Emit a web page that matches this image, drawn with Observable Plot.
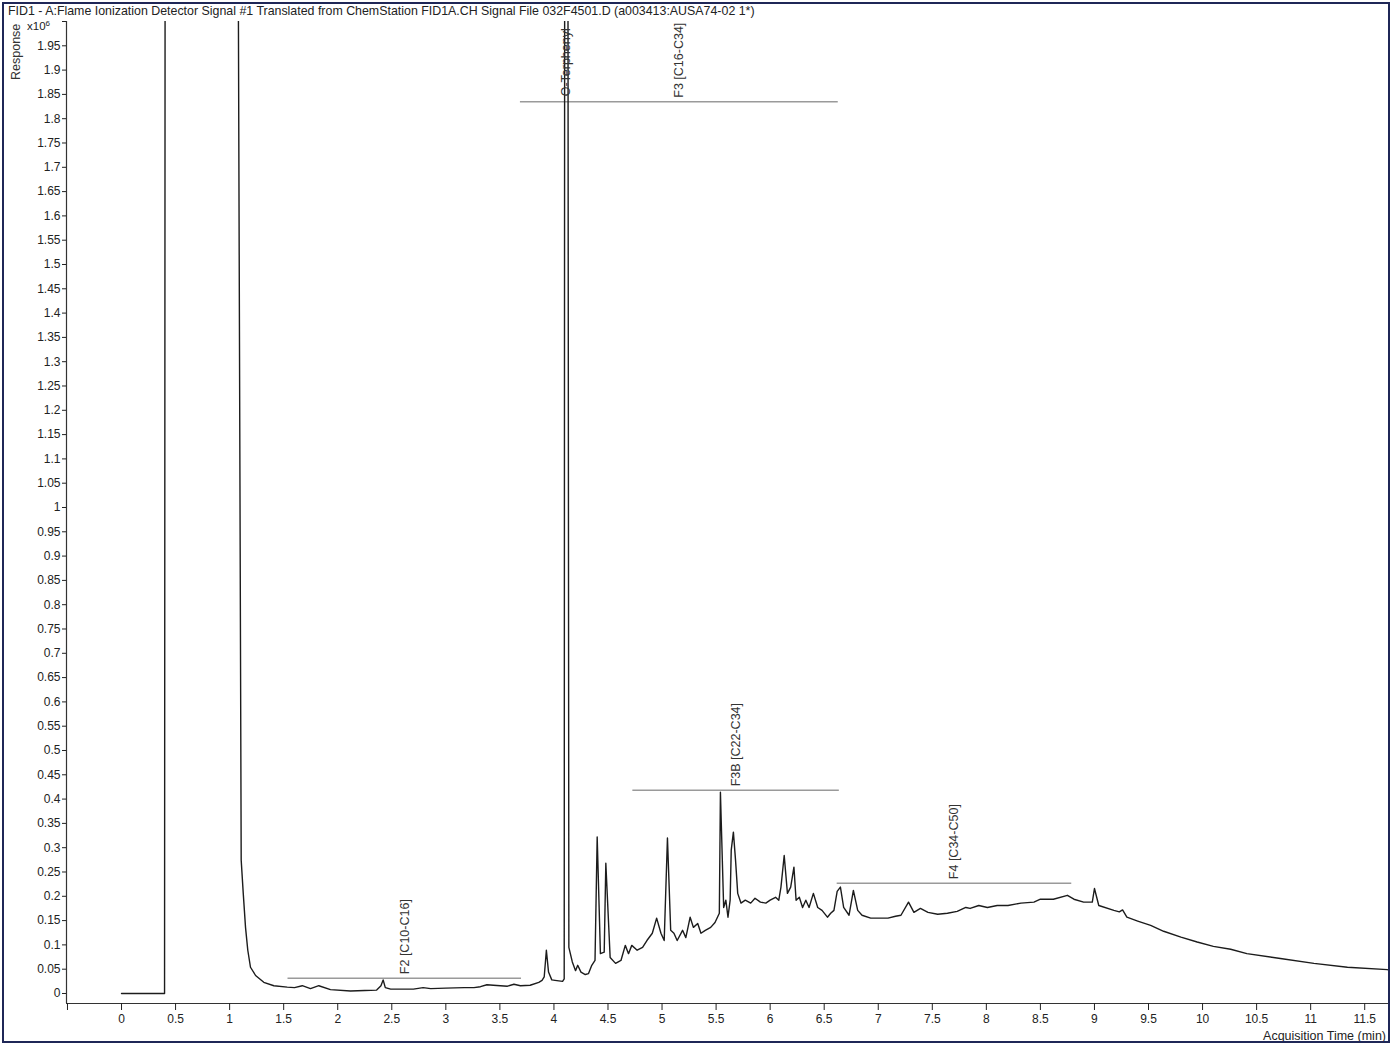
<!DOCTYPE html>
<html>
<head>
<meta charset="utf-8">
<script src="https://cdn.jsdelivr.net/npm/d3@7"></script>
<script src="https://cdn.jsdelivr.net/npm/@observablehq/plot@0.6"></script>
<style>
  html, body { margin: 0; padding: 0; background: #fff; }
  #wrap { position: relative; width: 1392px; height: 1045px; overflow: hidden; background: #fff; font-family: "Liberation Sans", Arial, sans-serif; color: #222; }
  #title { position: absolute; left: 8px; top: 4px; font-size: 12.4px; white-space: nowrap; }
  #resp { position: absolute; left: 9px; top: 80px; font-size: 12.5px; transform-origin: 0 0; transform: rotate(-90deg); white-space: nowrap; color: #333; }
  #mag { position: absolute; left: 27px; top: 19px; font-family: "Liberation Sans Narrow", "Liberation Sans", sans-serif; font-size: 11.5px; white-space: nowrap; }
  #mag sup { font-size: 8px; vertical-align: 4px; }
  #chart { position: absolute; left: 0; top: 20px; }
  #xlabel { position: absolute; right: 6px; top: 1029px; font-family: "Liberation Sans Narrow", "Liberation Sans", sans-serif; font-size: 12.5px; white-space: nowrap; }
  #border { position: absolute; left: 2px; top: 2px; right: 2px; bottom: 2px; border: 2px solid #1f2757; pointer-events: none; }
</style>
</head>
<body>
<div id="wrap">
  <div id="title">FID1 - A:Flame Ionization Detector Signal #1 Translated from ChemStation FID1A.CH Signal File 032F4501.D (a003413:AUSA74-02 1*)</div>
  <div id="resp">Response</div>
  <div id="mag">x10<sup>6</sup></div>
  <div id="chart"></div>
  <div id="xlabel">Acquisition Time (min)</div>
  <div id="border"></div>
</div>
<script>
// Acquisition time (min)
const time = [
  0, 0.398, 0.404, 1.074, 1.107, 1.126, 1.147, 1.168, 1.193, 1.240, 1.316, 1.409, 1.533, 1.60, 1.672, 1.748, 1.825, 1.933,
  2.118, 2.25, 2.36, 2.40, 2.42, 2.44, 2.49, 2.70, 2.79, 2.86, 3.0, 3.17, 3.26, 3.32, 3.38, 3.44, 3.57, 3.63, 3.69, 3.78,
  3.86, 3.89, 3.91, 3.93, 3.95, 3.98, 4.01, 4.08, 4.095, 4.10, 4.128, 4.138, 4.17, 4.20, 4.22, 4.25, 4.29, 4.32, 4.35, 4.38,
  4.40, 4.43, 4.465, 4.48, 4.52, 4.57, 4.62, 4.66, 4.69, 4.72, 4.77, 4.82, 4.86, 4.91, 4.95, 4.99, 5.02, 5.05, 5.08, 5.11,
  5.14, 5.19, 5.22, 5.26, 5.29, 5.33, 5.36, 5.40, 5.45, 5.49, 5.53, 5.54, 5.57, 5.59, 5.61, 5.63, 5.64, 5.66, 5.68, 5.70,
  5.73, 5.77, 5.82, 5.86, 5.91, 5.96, 6.00, 6.05, 6.08, 6.10, 6.13, 6.16, 6.19, 6.22, 6.24, 6.27, 6.30, 6.33, 6.36, 6.40,
  6.44, 6.48, 6.53, 6.56, 6.59, 6.62, 6.65, 6.68, 6.73, 6.77, 6.81, 6.85, 6.93, 7.00, 7.09, 7.16, 7.21, 7.28, 7.33, 7.39,
  7.46, 7.55, 7.64, 7.73, 7.81, 7.85, 7.93, 8.01, 8.10, 8.20, 8.32, 8.44, 8.50, 8.62, 8.75, 8.81, 8.90, 8.98, 9.00, 9.04,
  9.18, 9.23, 9.26, 9.30, 9.40, 9.52, 9.64, 9.80, 9.95, 10.10, 10.26, 10.41, 10.72, 11.03, 11.34, 11.71
];
// Response (x10^6); values above 2 are off-scale (clipped)
const response = [
  0, 0, 2.5, 2.5, 0.274, 0.206, 0.136, 0.089, 0.054, 0.037, 0.023, 0.016, 0.013, 0.012, 0.016, 0.010, 0.016, 0.008,
  0.005, 0.006, 0.007, 0.016, 0.028, 0.012, 0.009, 0.009, 0.012, 0.010, 0.011, 0.012, 0.012, 0.014, 0.018, 0.017, 0.015, 0.019, 0.016, 0.017,
  0.023, 0.027, 0.034, 0.089, 0.044, 0.028, 0.027, 0.025, 0.030, 2.5, 2.5, 0.095, 0.065, 0.047, 0.058, 0.044, 0.039, 0.041, 0.058, 0.068,
  0.322, 0.082, 0.085, 0.268, 0.074, 0.062, 0.068, 0.099, 0.082, 0.099, 0.089, 0.095, 0.109, 0.124, 0.155, 0.124, 0.109, 0.320, 0.130, 0.124,
  0.109, 0.130, 0.115, 0.157, 0.136, 0.144, 0.124, 0.130, 0.136, 0.146, 0.165, 0.414, 0.177, 0.192, 0.157, 0.192, 0.295, 0.332, 0.274, 0.206,
  0.186, 0.192, 0.186, 0.196, 0.188, 0.186, 0.192, 0.198, 0.192, 0.219, 0.284, 0.206, 0.219, 0.260, 0.192, 0.198, 0.177, 0.192, 0.177, 0.206,
  0.177, 0.171, 0.157, 0.165, 0.171, 0.210, 0.219, 0.177, 0.161, 0.212, 0.171, 0.161, 0.155, 0.155, 0.155, 0.159, 0.161, 0.188, 0.167, 0.175,
  0.167, 0.163, 0.165, 0.169, 0.177, 0.175, 0.181, 0.177, 0.181, 0.181, 0.186, 0.188, 0.194, 0.194, 0.202, 0.194, 0.188, 0.188, 0.216, 0.181,
  0.171, 0.168, 0.172, 0.157, 0.149, 0.140, 0.128, 0.116, 0.106, 0.097, 0.091, 0.082, 0.072, 0.062, 0.054, 0.049
];

// Fraction brackets
const bracketLabel = ["F2 [C10-C16]", "F3 [C16-C34]", "F3B [C22-C34]", "F4 [C34-C50]"];
const bracketStart = [1.54, 3.69, 4.73, 6.62];
const bracketEnd   = [3.70, 6.63, 6.64, 8.79];
const bracketLevel = [0.0315, 1.835, 0.418, 0.227];

// Peak label
const peakLabel = ["O-Terphenyl"];
const peakTime = [4.114];
const peakLevel = [1.846];

// Axis ticks
const xTicks = [-0.5, 0, 0.5, 1, 1.5, 2, 2.5, 3, 3.5, 4, 4.5, 5, 5.5, 6, 6.5, 7, 7.5, 8, 8.5, 9, 9.5, 10, 10.5, 11, 11.5];
const yTicks = [0, 0.05, 0.1, 0.15, 0.2, 0.25, 0.3, 0.35, 0.4, 0.45, 0.5, 0.55, 0.6, 0.65, 0.7, 0.75, 0.8, 0.85, 0.9, 0.95,
  1, 1.05, 1.1, 1.15, 1.2, 1.25, 1.3, 1.35, 1.4, 1.45, 1.5, 1.55, 1.6, 1.65, 1.7, 1.75, 1.8, 1.85, 1.9, 1.95, 2];

const signal = time.map((t, i) => ({t, r: response[i]}));
const brackets = bracketLabel.map((label, i) => ({label, x1: bracketStart[i], x2: bracketEnd[i], y: bracketLevel[i], xm: (bracketStart[i] + bracketEnd[i]) / 2}));
const peaks = peakLabel.map((label, i) => ({label, x: peakTime[i], y: peakLevel[i]}));

const xDomain = [-0.509, 11.72];
const yDomain = [-0.0206, 2.0];

const chart = Plot.plot({
  width: 1392,
  height: 1025,
  marginLeft: 66,
  marginRight: 4,
  marginTop: 1,
  marginBottom: 42,
  x: {domain: xDomain},
  y: {domain: yDomain},
  style: {fontFamily: "'Liberation Sans Narrow', 'Liberation Sans', sans-serif", fontSize: "12px", color: "#222", background: "transparent"},
  marks: [
    Plot.ruleY(brackets, {x1: "x1", x2: "x2", y: "y", stroke: "#9a9a9a", strokeWidth: 1.5}),
    Plot.text(brackets, {x: "xm", y: "y", text: "label", rotate: -90, textAnchor: "start", dy: -4, fontFamily: "'Liberation Sans', Arial, sans-serif", fontSize: 12.5, fill: "#333"}),
    Plot.line(signal, {x: "t", y: "r", stroke: "#1c1c1c", strokeWidth: 1.4, clip: true}),
    Plot.text(peaks, {x: "x", y: "y", text: "label", rotate: -90, textAnchor: "start", fontFamily: "'Liberation Sans', Arial, sans-serif", fontSize: 12.5, fill: "#333"}),
    Plot.ruleX([xDomain[0]], {y1: yDomain[0], y2: yDomain[1], stroke: "#333", strokeWidth: 1.2}),
    Plot.ruleY([yDomain[0]], {x1: xDomain[0], x2: xDomain[1], stroke: "#333", strokeWidth: 1.2}),
    Plot.axisY({ticks: yTicks, tickSize: 4, tickPadding: 2, label: null, tickFormat: d => d >= 2 ? "" : String(+d.toFixed(2))}),
    Plot.axisX({ticks: xTicks, tickSize: 7, tickPadding: 4, label: null, tickFormat: d => d < 0 ? "" : String(d)})
  ]
});
document.getElementById("chart").appendChild(chart);
</script>
</body>
</html>
